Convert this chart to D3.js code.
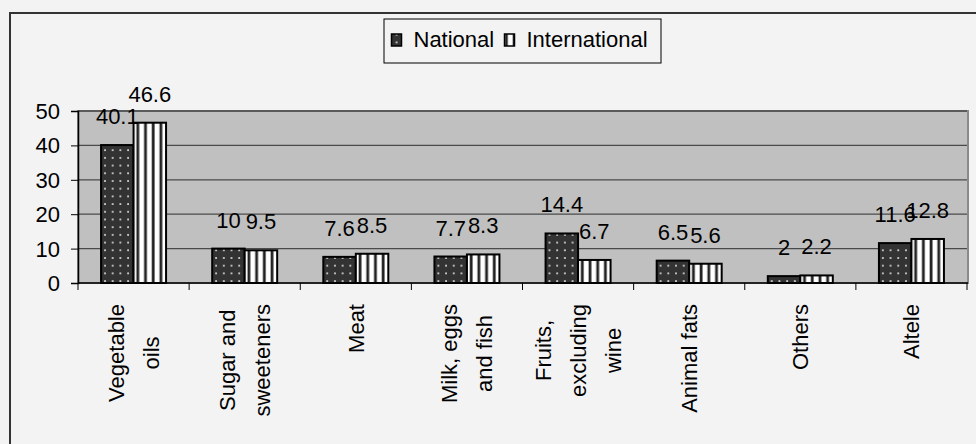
<!DOCTYPE html>
<html>
<head>
<meta charset="utf-8">
<script src="https://cdn.jsdelivr.net/npm/d3@7"></script>
<style>
  html, body { margin: 0; padding: 0; background: #f3f3f3; }
  svg { display: block; font-family: Arial, "Liberation Sans", sans-serif; }
</style>
</head>
<body>
<svg id="chart" width="976" height="444"></svg>
<script>
// data
var categories = ["Vegetable\noils", "Sugar and\nsweeteners", "Meat", "Milk, eggs\nand fish",
                  "Fruits,\nexcluding\nwine", "Animal fats", "Others", "Altele"];
var series = ["National", "International"];
var national = [40.1, 10, 7.6, 7.7, 14.4, 6.5, 2, 11.6];
var international = [46.6, 9.5, 8.5, 8.3, 6.7, 5.6, 2.2, 12.8];
var yTicks = [0, 10, 20, 30, 40, 50];

var svg = d3.select("#chart");
var plotL = 78, plotR = 967, plotT = 111, plotB = 283;
var fs = 22;

// patterns
var defs = svg.append("defs");
var dots = defs.append("pattern").attr("id", "dots")
    .attr("patternUnits", "userSpaceOnUse").attr("width", 7.7).attr("height", 7.7);
dots.append("rect").attr("width", 7.7).attr("height", 7.7).attr("fill", "#333");
dots.append("rect").attr("x", 3).attr("y", 3).attr("width", 1.8).attr("height", 1.8).attr("fill", "#d0d0d0");

var stripes = defs.append("pattern").attr("id", "stripes")
    .attr("patternUnits", "userSpaceOnUse").attr("width", 7.7).attr("height", 8);
stripes.append("rect").attr("width", 7.7).attr("height", 8).attr("fill", "#fff");
stripes.append("rect").attr("x", 4.5).attr("width", 2.8).attr("height", 8).attr("fill", "#222");

var fills = { "National": "url(#dots)", "International": "url(#stripes)" };

// outer frame
svg.append("rect").attr("x", 10).attr("y", 13).attr("width", 1000).attr("height", 500)
    .attr("fill", "#f3f3f3").attr("stroke", "#333").attr("stroke-width", 2);

// scales
var x0 = d3.scaleBand().domain(categories).range([plotL, plotR]).paddingInner(0).paddingOuter(0);
var x1 = d3.scaleBand().domain(series).range([0, x0.bandwidth()]).paddingInner(0).paddingOuter(0.71);
var y = d3.scaleLinear().domain([0, 50]).range([plotB, plotT]);

// plot area
svg.append("rect").attr("x", plotL).attr("y", plotT).attr("width", plotR - plotL + 1).attr("height", plotB - plotT)
    .attr("fill", "#c0c0c0").attr("stroke", "#8a8a8a").attr("stroke-width", 2);

// gridlines
svg.append("g").selectAll("line").data(yTicks.filter(function (d) { return d > 0; }))
  .enter().append("line")
    .attr("x1", plotL).attr("x2", plotR)
    .attr("y1", function (d) { return y(d); }).attr("y2", function (d) { return y(d); })
    .attr("stroke", "#4a4a4a").attr("stroke-width", 1.3);

// y axis
var yAxis = svg.append("g").attr("transform", "translate(" + plotL + ",0)")
    .call(d3.axisLeft(y).tickValues(yTicks).tickSize(7).tickPadding(11).tickFormat(d3.format("d")));
yAxis.select(".domain").attr("stroke", "#000").attr("stroke-width", 1.5);
yAxis.selectAll(".tick line").attr("stroke", "#000");
yAxis.selectAll(".tick text").attr("font-size", fs).attr("font-family", "Arial, 'Liberation Sans', sans-serif")
    .attr("fill", "#000").attr("dy", "0.34em");

// bars
var rows = categories.map(function (c, i) {
  return { cat: c, vals: [{ s: "National", v: national[i] }, { s: "International", v: international[i] }] };
});

var groups = svg.append("g").selectAll("g").data(rows).enter().append("g")
    .attr("transform", function (d) { return "translate(" + x0(d.cat) + ",0)"; });

groups.selectAll("rect").data(function (d) { return d.vals; }).enter().append("rect")
    .attr("x", function (d) { return x1(d.s); })
    .attr("y", function (d) { return y(d.v); })
    .attr("width", x1.bandwidth())
    .attr("height", function (d) { return y(0) - y(d.v); })
    .attr("fill", function (d) { return fills[d.s]; })
    .attr("stroke", "#000").attr("stroke-width", 2);

// value labels
groups.selectAll("text").data(function (d) { return d.vals; }).enter().append("text")
    .attr("x", function (d) { return x1(d.s) + x1.bandwidth() / 2; })
    .attr("y", function (d) { return y(d.v) - 21; })
    .attr("text-anchor", "middle").attr("font-size", fs).attr("fill", "#000")
    .text(function (d) { return d.v; });

// x axis
svg.append("line").attr("x1", plotL).attr("x2", plotR + 1).attr("y1", plotB).attr("y2", plotB)
    .attr("stroke", "#000").attr("stroke-width", 1.5);
svg.append("g").selectAll("line").data(categories.concat(["end"])).enter().append("line")
    .attr("x1", function (d, i) { return plotL + i * x0.step(); })
    .attr("x2", function (d, i) { return plotL + i * x0.step(); })
    .attr("y1", plotB).attr("y2", plotB + 7)
    .attr("stroke", "#000").attr("stroke-width", 1);

// category labels, rotated, lines centred on each other, block hung from the axis
var lineH = 35;
var labels = svg.append("g").selectAll("text").data(categories).enter().append("text")
    .attr("transform", function (d) {
      return "translate(" + (x0(d) + x0.bandwidth() / 2) + ",304) rotate(-90)";
    })
    .attr("font-size", fs).attr("fill", "#000");
labels.each(function (d) {
  var lines = d.split("\n");
  var b0 = (0.72 * fs - (lines.length - 1) * lineH) / 2;
  var spans = d3.select(this).selectAll("tspan").data(lines).enter().append("tspan")
      .attr("x", 0).attr("y", function (l, i) { return b0 + i * lineH; })
      .attr("text-anchor", "middle")
      .text(function (l) { return l; });
  var maxLen = 0;
  spans.each(function () { maxLen = Math.max(maxLen, this.getComputedTextLength()); });
  spans.attr("x", -maxLen / 2);
});

// legend
var legend = svg.append("g");
legend.append("rect").attr("x", 384).attr("y", 19).attr("width", 277).attr("height", 44)
    .attr("fill", "#f3f3f3").attr("stroke", "#000").attr("stroke-width", 1);
var legendX = { "National": 391.5, "International": 504.5 };
series.forEach(function (s) {
  legend.append("rect").attr("x", legendX[s]).attr("y", 34).attr("width", 10).attr("height", 12)
      .attr("fill", fills[s]).attr("stroke", "#000").attr("stroke-width", 1.5);
  legend.append("text").attr("x", legendX[s] + 22).attr("y", 47)
      .attr("font-size", fs).attr("fill", "#000").text(s);
});
</script>
</body>
</html>
